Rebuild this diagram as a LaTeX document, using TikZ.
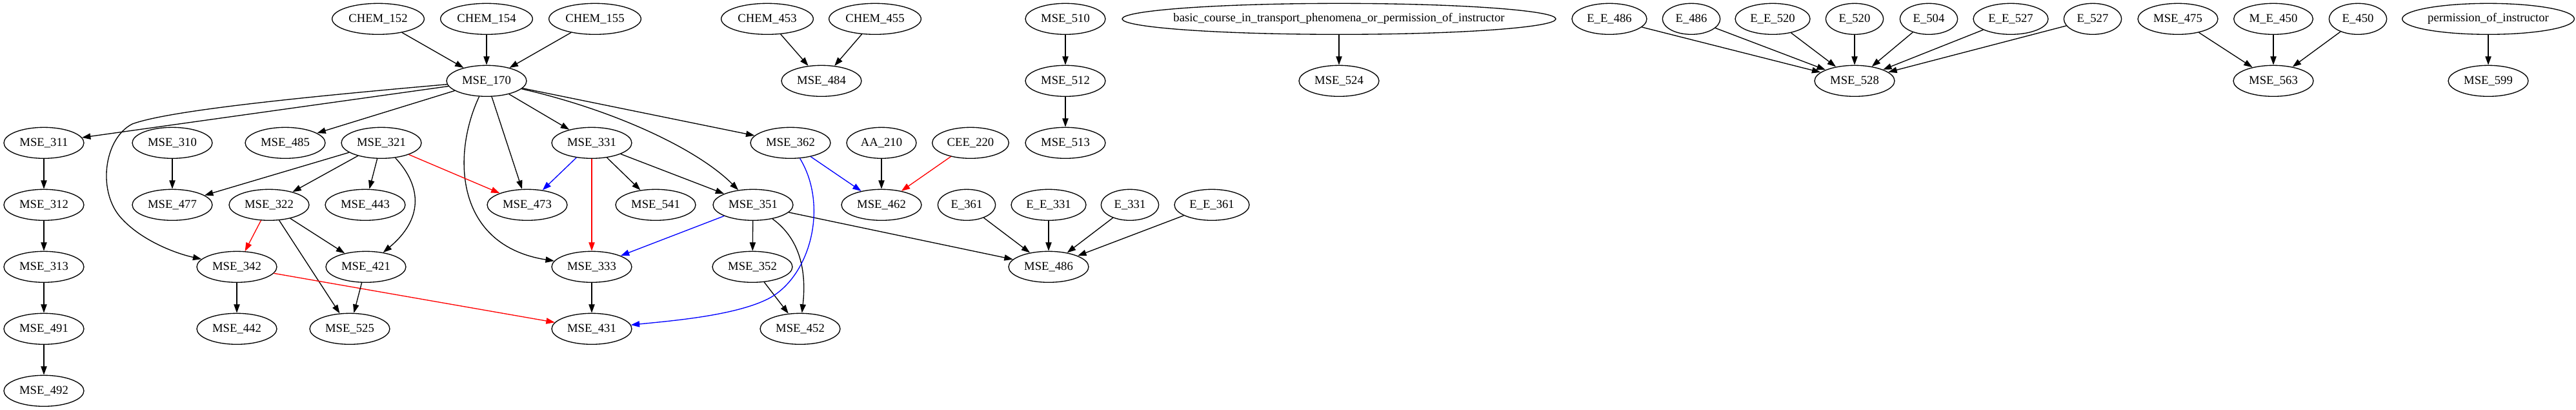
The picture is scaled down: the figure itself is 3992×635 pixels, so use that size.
\documentclass[tikz,border=0pt]{standalone}
\usepackage{fontspec}
\setmainfont{Liberation Serif}
\usetikzlibrary{shapes.geometric,arrows.meta}
\begin{document}
\begin{tikzpicture}[x=0.75pt,y=-0.75pt,
  nd/.style={draw, ellipse, line width=1pt, inner sep=0pt, minimum height=36pt, font=\fontsize{14}{16}\selectfont},
  ms/.style={nd, minimum width=93pt},
  ch/.style={nd, minimum width=107pt},
  ee/.style={nd, minimum width=87pt},
  es/.style={nd, minimum width=67pt},
  ed/.style={line width=1pt, -{Triangle[length=10pt,width=7pt]}},
  rd/.style={ed, draw=red},
  bl/.style={ed, draw=blue}
]
\useasboundingbox (0,0) rectangle (3992,635);
% row 1
\node[ch] (c152) at (586,29.3) {\makebox[0pt]{CHEM\_152}};
\node[ch] (c154) at (754,29.3) {\makebox[0pt]{CHEM\_154}};
\node[ch] (c155) at (922,29.3) {\makebox[0pt]{CHEM\_155}};
\node[ch] (c453) at (1189,29.3) {\makebox[0pt]{CHEM\_453}};
\node[ch] (c455) at (1356,29.3) {\makebox[0pt]{CHEM\_455}};
\node[ms] (m510) at (1651,29.3) {\makebox[0pt]{MSE\_510}};
\node[nd, minimum width=504pt] (basic) at (2075,29.3) {\makebox[0pt]{basic\_course\_in\_transport\_phenomena\_or\_permission\_of\_instructor}};
\node[ee] (ee486) at (2494,29.3) {\makebox[0pt]{E\_E\_486}};
\node[es] (e486) at (2621,29.3) {\makebox[0pt]{E\_486}};
\node[ee] (ee520) at (2747,29.3) {\makebox[0pt]{E\_E\_520}};
\node[es] (e520) at (2874,29.3) {\makebox[0pt]{E\_520}};
\node[es] (e504) at (2989,29.3) {\makebox[0pt]{E\_504}};
\node[ee] (ee527) at (3116,29.3) {\makebox[0pt]{E\_E\_527}};
\node[es] (e527) at (3243,29.3) {\makebox[0pt]{E\_527}};
\node[ms] (m475) at (3375,29.3) {\makebox[0pt]{MSE\_475}};
\node[nd, minimum width=92pt] (me450) at (3523,29.3) {\makebox[0pt]{M\_E\_450}};
\node[es] (e450) at (3654,29.3) {\makebox[0pt]{E\_450}};
\node[nd, minimum width=200pt] (perm) at (3856,29.3) {\makebox[0pt]{permission\_of\_instructor}};
% row 2
\node[ms] (m170) at (754,125.3) {\makebox[0pt]{MSE\_170}};
\node[ms] (m484) at (1273,125.3) {\makebox[0pt]{MSE\_484}};
\node[ms] (m512) at (1651,125.3) {\makebox[0pt]{MSE\_512}};
\node[ms] (m524) at (2075,125.3) {\makebox[0pt]{MSE\_524}};
\node[ms] (m528) at (2874,125.3) {\makebox[0pt]{MSE\_528}};
\node[ms] (m563) at (3523,125.3) {\makebox[0pt]{MSE\_563}};
\node[ms] (m599) at (3856,125.3) {\makebox[0pt]{MSE\_599}};
% row 3
\node[ms] (m311) at (68,221.3) {\makebox[0pt]{MSE\_311}};
\node[ms] (m310) at (267,221.3) {\makebox[0pt]{MSE\_310}};
\node[ms] (m485) at (442,221.3) {\makebox[0pt]{MSE\_485}};
\node[ms] (m321) at (591,221.3) {\makebox[0pt]{MSE\_321}};
\node[ms] (m331) at (917,221.3) {\makebox[0pt]{MSE\_331}};
\node[ms] (m362) at (1225,221.3) {\makebox[0pt]{MSE\_362}};
\node[nd, minimum width=81pt] (aa210) at (1366,221.3) {\makebox[0pt]{AA\_210}};
\node[nd, minimum width=89pt] (cee220) at (1504,221.3) {\makebox[0pt]{CEE\_220}};
\node[ms] (m513) at (1651,221.3) {\makebox[0pt]{MSE\_513}};
% row 4
\node[ms] (m312) at (68,317.3) {\makebox[0pt]{MSE\_312}};
\node[ms] (m477) at (267,317.3) {\makebox[0pt]{MSE\_477}};
\node[ms] (m322) at (417,317.3) {\makebox[0pt]{MSE\_322}};
\node[ms] (m443) at (566,317.3) {\makebox[0pt]{MSE\_443}};
\node[ms] (m473) at (817,317.3) {\makebox[0pt]{MSE\_473}};
\node[ms] (m541) at (1016,317.3) {\makebox[0pt]{MSE\_541}};
\node[ms] (m351) at (1167,317.3) {\makebox[0pt]{MSE\_351}};
\node[ms] (m462) at (1366,317.3) {\makebox[0pt]{MSE\_462}};
\node[es] (e361) at (1498,317.3) {\makebox[0pt]{E\_361}};
\node[ee] (ee331) at (1625,317.3) {\makebox[0pt]{E\_E\_331}};
\node[es] (e331) at (1751,317.3) {\makebox[0pt]{E\_331}};
\node[ee] (ee361) at (1878,317.3) {\makebox[0pt]{E\_E\_361}};
% row 5
\node[ms] (m313) at (68,413.3) {\makebox[0pt]{MSE\_313}};
\node[ms] (m342) at (367,413.3) {\makebox[0pt]{MSE\_342}};
\node[ms] (m421) at (567,413.3) {\makebox[0pt]{MSE\_421}};
\node[ms] (m333) at (917,413.3) {\makebox[0pt]{MSE\_333}};
\node[ms] (m352) at (1166,413.3) {\makebox[0pt]{MSE\_352}};
\node[ms] (m486) at (1625,413.3) {\makebox[0pt]{MSE\_486}};
% row 6
\node[ms] (m491) at (68,509.3) {\makebox[0pt]{MSE\_491}};
\node[ms] (m442) at (367,509.3) {\makebox[0pt]{MSE\_442}};
\node[ms] (m525) at (542,509.3) {\makebox[0pt]{MSE\_525}};
\node[ms] (m431) at (917,509.3) {\makebox[0pt]{MSE\_431}};
\node[ms] (m452) at (1240,509.3) {\makebox[0pt]{MSE\_452}};
% row 7
\node[ms] (m492) at (68,605.3) {\makebox[0pt]{MSE\_492}};

% edges
\draw[ed] (c152) -- (m170);
\draw[ed] (c154) -- (m170);
\draw[ed] (c155) -- (m170);
\draw[ed] (m170) -- (m311);
\draw[ed] (m170) .. controls (450,152) and (260,172) .. (205,192) .. controls (160,215) and (150,300) .. (190,340) .. controls (220,372) and (270,392) .. (m342);
\draw[ed] (m170) -- (m485);
\draw[ed] (m170) .. controls (700,240) and (705,380) .. (m333);
\draw[ed] (m170) -- (m473);
\draw[ed] (m170) -- (m331);
\draw[ed] (m170) .. controls (950,170) and (1080,230) .. (m351);
\draw[ed] (m170) -- (m362);
\draw[ed] (m311) -- (m312);
\draw[ed] (m312) -- (m313);
\draw[ed] (m313) -- (m491);
\draw[ed] (m491) -- (m492);
\draw[ed] (m310) -- (m477);
\draw[ed] (m321) -- (m477);
\draw[ed] (m321) -- (m322);
\draw[ed] (m321) -- (m443);
\draw[ed] (m321) .. controls (655,290) and (655,340) .. (m421);
\draw[rd] (m321) -- (m473);
\draw[bl] (m331) -- (m473);
\draw[rd] (m331) -- (m333);
\draw[ed] (m331) -- (m541);
\draw[ed] (m331) -- (m351);
\draw[rd] (m322) -- (m342);
\draw[ed] (m322) -- (m525);
\draw[ed] (m322) -- (m421);
\draw[ed] (m342) -- (m442);
\draw[rd] (m342) -- (m431);
\draw[ed] (m421) -- (m525);
\draw[ed] (m333) -- (m431);
\draw[bl] (m351) -- (m333);
\draw[ed] (m351) -- (m352);
\draw[ed] (m351) .. controls (1240,370) and (1250,420) .. (m452);
\draw[ed] (m351) -- (m486);
\draw[ed] (m352) -- (m452);
\draw[bl] (m362) -- (m462);
\draw[bl] (m362) .. controls (1285,320) and (1255,430) .. (1190,463) .. controls (1138,489) and (1040,497) .. (m431);
\draw[ed] (aa210) -- (m462);
\draw[rd] (cee220) -- (m462);
\draw[ed] (e361) -- (m486);
\draw[ed] (ee331) -- (m486);
\draw[ed] (e331) -- (m486);
\draw[ed] (ee361) -- (m486);
\draw[ed] (c453) -- (m484);
\draw[ed] (c455) -- (m484);
\draw[ed] (m510) -- (m512);
\draw[ed] (m512) -- (m513);
\draw[ed] (basic) -- (m524);
\draw[ed] (ee486) -- (m528);
\draw[ed] (e486) -- (m528);
\draw[ed] (ee520) -- (m528);
\draw[ed] (e520) -- (m528);
\draw[ed] (e504) -- (m528);
\draw[ed] (ee527) -- (m528);
\draw[ed] (e527) -- (m528);
\draw[ed] (m475) -- (m563);
\draw[ed] (me450) -- (m563);
\draw[ed] (e450) -- (m563);
\draw[ed] (perm) -- (m599);
\end{tikzpicture}
\end{document}
